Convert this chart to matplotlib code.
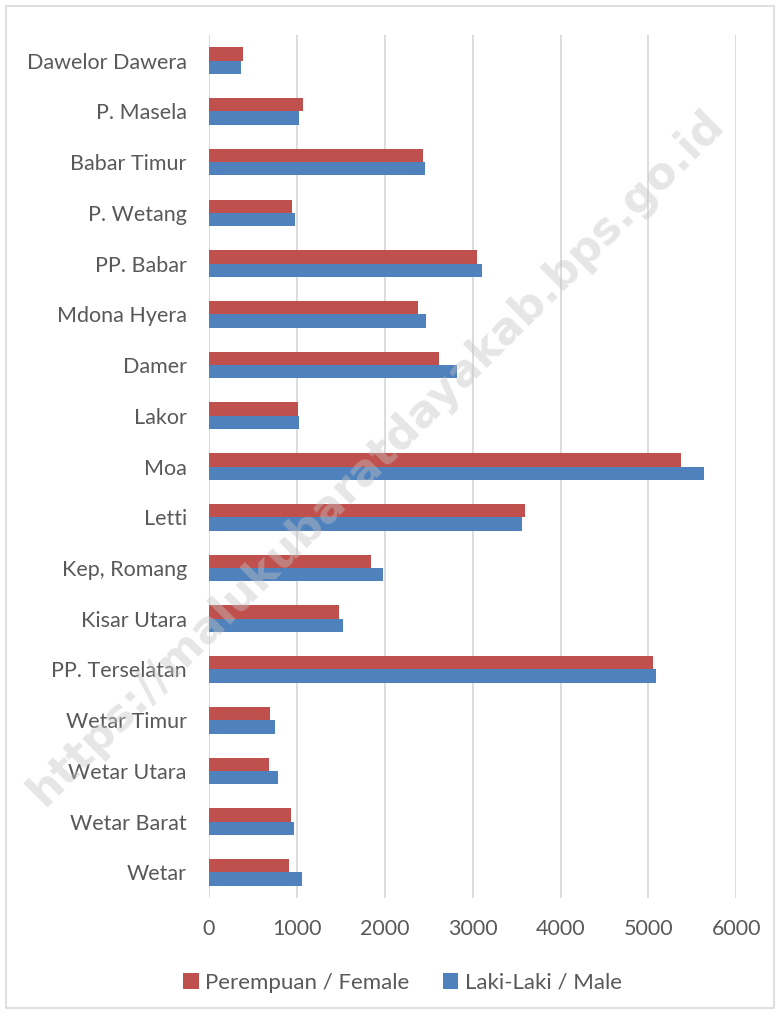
import numpy as np
import matplotlib
matplotlib.use("Agg")
from matplotlib import pyplot as plt
from matplotlib.patches import Rectangle

# categories listed top to bottom as in the chart
districts = ["Dawelor Dawera", "P. Masela", "Babar Timur", "P. Wetang",
             "PP. Babar", "Mdona Hyera", "Damer", "Lakor", "Moa", "Letti",
             "Kep, Romang", "Kisar Utara", "PP. Terselatan", "Wetar Timur",
             "Wetar Utara", "Wetar Barat", "Wetar"]
female = [390, 1072, 2435, 947, 3053, 2379, 2614, 1011, 5368, 3599,
          1841, 1484, 5056, 693, 685, 936, 905]
male = [364, 1027, 2458, 977, 3106, 2466, 2818, 1023, 5628, 3563,
        1980, 1521, 5084, 746, 780, 966, 1053]
xticks = [0, 1000, 2000, 3000, 4000, 5000, 6000]

red = "#C0504D"
blue = "#4F81BD"
grid = "#D9D9D9"
txt = "#595959"
font = "Lato"
fs = 15.5

fig = plt.figure(figsize=(7.8, 10.14), dpi=100)
ax = fig.add_axes([0.268, 0.1146, 0.676, 0.8506])

y = np.arange(len(districts))
h = 0.263
ax.barh(y - h / 2, female, height=h, color=red, label="Perempuan / Female", zorder=3)
ax.barh(y + h / 2, male, height=h, color=blue, label="Laki-Laki / Male", zorder=3)

ax.set_ylim(len(districts) - 0.5, -0.5)
ax.set_xlim(0, 6000)
ax.set_xticks(xticks)
ax.set_xticklabels([str(v) for v in xticks], fontsize=fs, color=txt, family=font)
ax.set_yticks(y)
ax.set_yticklabels(districts, fontsize=fs, color=txt, family=font)
ax.tick_params(length=0)
ax.tick_params(axis="y", pad=16)
ax.tick_params(axis="x", pad=15)
ax.xaxis.grid(True, color=grid, lw=1.3, zorder=0)
for s in ax.spines.values():
    s.set_visible(False)

leg = fig.legend(loc="center", bbox_to_anchor=(0.516, 0.031), ncol=2, frameon=False,
                 prop={"family": font, "size": 16}, handlelength=0.7, handleheight=0.7,
                 handletextpad=0.3, columnspacing=1.5)
for t in leg.get_texts():
    t.set_color(txt)

# watermark
fig.text(0.482, 0.548, "https://malukubaratdayakab.bps.go.id", rotation=45,
         fontsize=32, fontweight="bold", color="#C4C4C4", alpha=0.42,
         ha="center", va="center", family="DejaVu Sans", zorder=10)

fig.patches.append(Rectangle((6 / 780, 6 / 1014), 768 / 780, 1002 / 1014,
                             transform=fig.transFigure, fill=False,
                             edgecolor=grid, lw=1.2))

fig.savefig("out.png", dpi=100)
